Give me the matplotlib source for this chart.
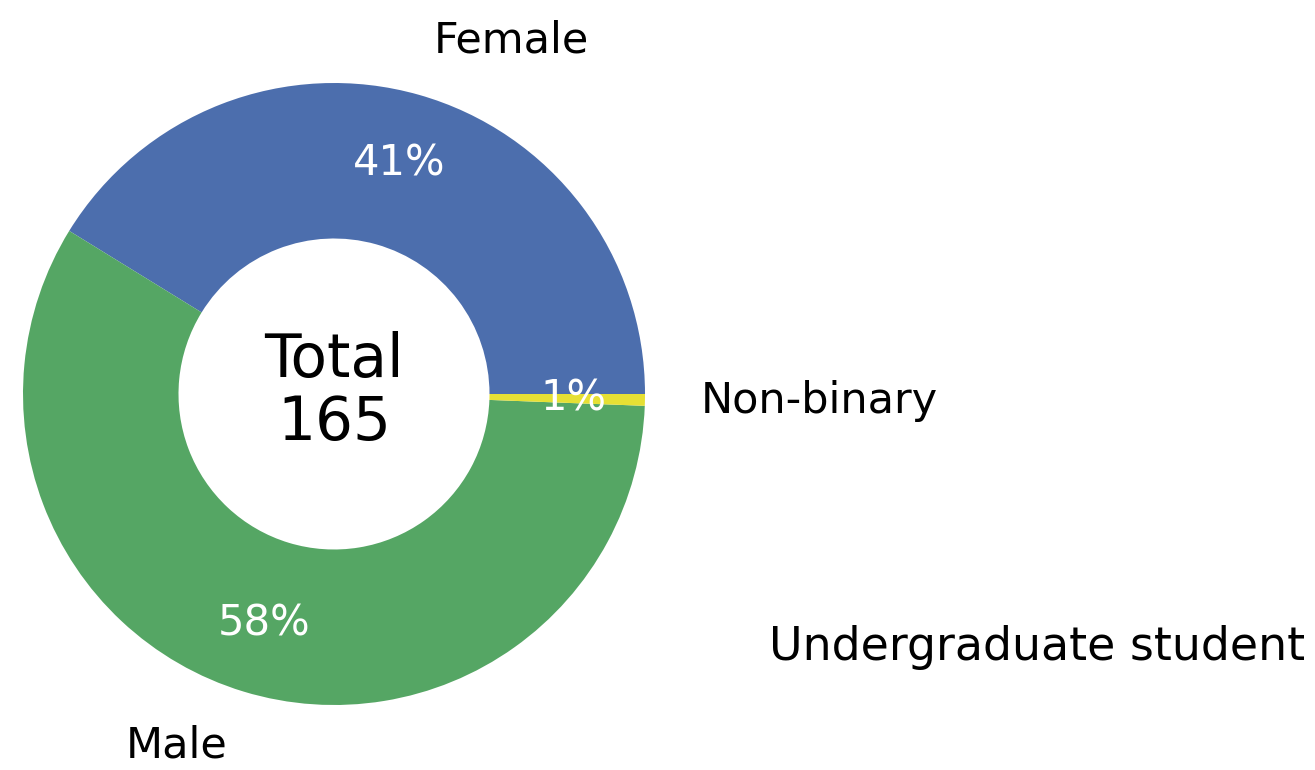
import matplotlib.pyplot as plt

categories = ['Female', 'Male', 'Non-binary']
counts = [68, 96, 1]
colors = ['#4C6EAD', '#55A664', '#E6E034']
group = 'Undergraduate student'

fig = plt.figure(figsize=(13.15, 7.7), dpi=100)
# square axes whose data range -1..1 maps to the pie radius
ax = fig.add_axes([23 / 1315, 65 / 770, 622 / 1315, 622 / 770])

wedges, texts, autotexts = ax.pie(
    counts, labels=categories, colors=colors, startangle=0,
    autopct='%1.0f%%', pctdistance=0.77, labeldistance=1.18,
    wedgeprops=dict(width=0.5, linewidth=0),
    textprops=dict(fontsize=30))
for t in texts:
    t.set_fontsize(31)
for t in autotexts:
    t.set_color('white')

ax.text(0, 0.007, 'Total\n%d' % sum(counts), ha='center', va='center',
        fontsize=43, linespacing=1.1)
ax.set_xlim(-1, 1)
ax.set_ylim(-1, 1)
ax.set_aspect('equal')

fig.text(1305 / 1315, 1 - 647 / 770, group, ha='right', va='center', fontsize=33)

fig.savefig('out.png', dpi=100)
